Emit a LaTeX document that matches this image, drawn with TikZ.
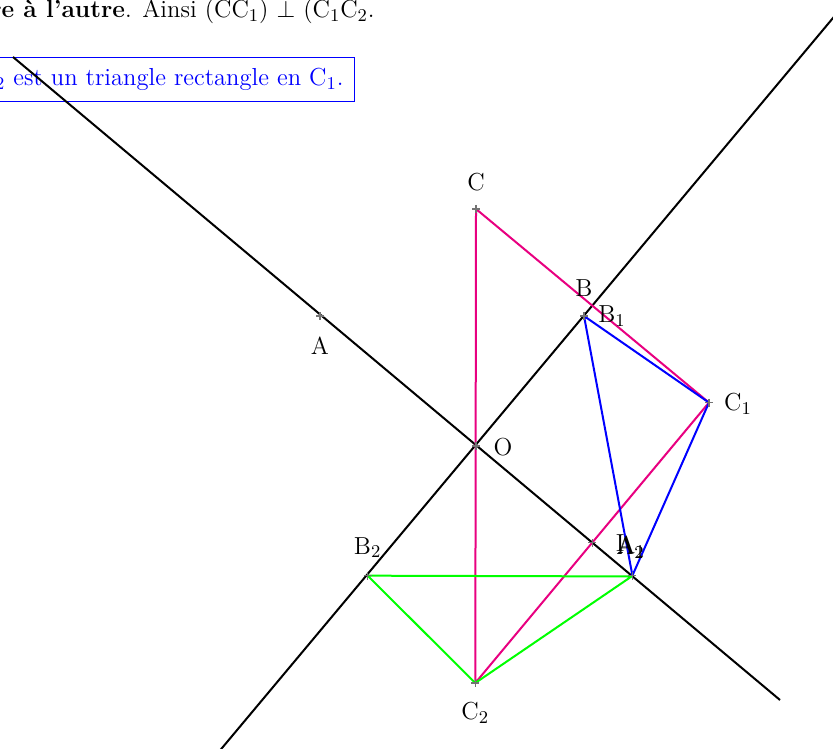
\documentclass[tikz,border=0pt]{standalone}
\usepackage{fontspec}
\usetikzlibrary{
    calc,
    positioning
}
\definecolor{rose}{RGB}{232,0,128}
\definecolor{vert}{RGB}{0,255,0}
\definecolor{bleu}{RGB}{0,0,255}
\tikzset{
  droite/.style={
    black,
    line width=1pt
  },
  tri/.style={
    line width=1pt,
    line join=round
  },
  croix/.style={
    black!55,
    line width=0.6pt
  },
  etiq/.style={
    font=\fontsize{12.3}{15}\selectfont,
    inner sep=0pt
  }
}

\begin{document}
\begin{tikzpicture}[x=0.5pt,y=-0.5pt]
\useasboundingbox (0,0) rectangle (833,748);
\clip (0,0) rectangle (833,748);
% textes du haut
\node[etiq, anchor=base east] (phrase) at (375,18)
  {\textbf{re à l'autre}. Ainsi (CC$_1$) $\perp$ (C$_1$C$_2$.};
\node[etiq, draw=bleu, text=bleu, line width=0.5pt, inner sep=5.5pt,
  anchor=north east] (conclu) at (355,57)
  {C$_2$ est un triangle rectangle en C$_1$.};
% points
\coordinate (O) at (476,446);
\coordinate (A) at (320,316);
\coordinate (B) at (584,316);
\coordinate (C) at (476,209);
% les deux droites
\coordinate (d1) at (13,57);
\coordinate (d2) at (780,700);
\coordinate (e1) at (215,756.4);
\coordinate (e2) at (840,9.6);
\draw[droite] (d1) -- (d2);
\draw[droite] (e1) -- (e2);
% symetrique par rapport a (OB)
\foreach \p in {A,C} {
  \coordinate (h\p) at ($(O)!(\p)!(B)$);
  \coordinate (\p1) at ($(\p)!2!(h\p)$);
}
\coordinate (B1) at (B);
% puis par rapport a (OA)
\foreach \p in {A,B,C} {
  \coordinate (k\p) at ($(O)!(\p1)!(A)$);
  \coordinate (\p2) at ($(\p1)!2!(k\p)$);
}
\coordinate (I) at ($(C1)!.5!(C2)$);
% triangles
\draw[tri, rose] (C) -- (C1) -- (C2) -- cycle;
\draw[tri, bleu] (A1) -- (B1) -- (C1) -- cycle;
\draw[tri, vert] (A2) -- (B2) -- (C2) -- cycle;
% croix
\foreach \p in {A,B,C,O,A1,C1,B2,C2,I}
  \draw[croix] (\p) +(-4,0) -- +(4,0) +(0,-4) -- +(0,4);
% noms des points
\foreach \p/\t/\dx/\dy in {A/A/0/30, B/B/0/-28, C/C/0/-27, O/O/27/1,
    A1/A$_1$/-1/-29, B1/B$_1$/28/0, C1/C$_1$/29/1,
    A2/A$_2$/-1/-29, B2/B$_2$/0/-28, C2/C$_2$/0/30, I/I/28/0}
  \node[etiq] (l\p) at ($(\p)+(\dx,\dy)$) {\t};
\end{tikzpicture}
\end{document}
